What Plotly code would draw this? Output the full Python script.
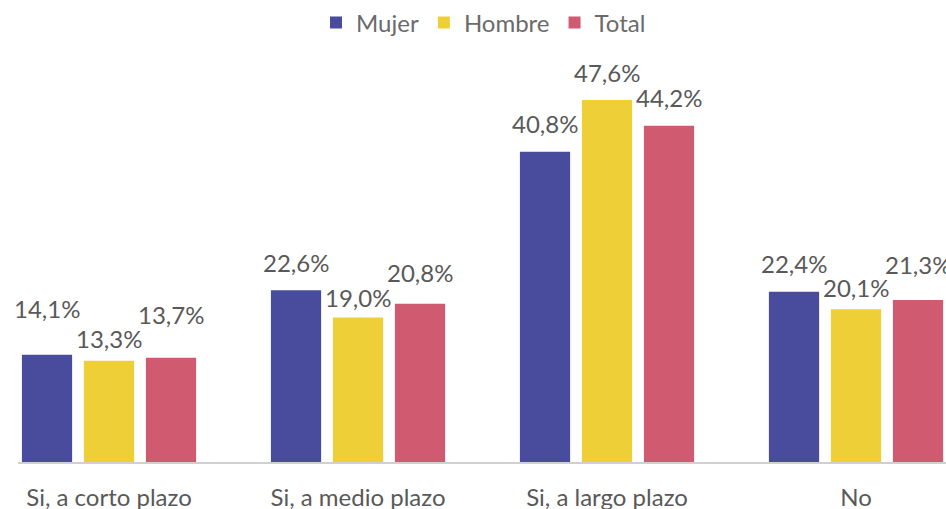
import plotly.graph_objects as go

categories = ["Si, a corto plazo", "Si, a medio plazo", "Si, a largo plazo", "No"]
mujer = [14.1, 22.6, 40.8, 22.4]
hombre = [13.3, 19.0, 47.6, 20.1]
total = [13.7, 20.8, 44.2, 21.3]
series_names = ["Mujer", "Hombre", "Total"]
colors = ["#494C9C", "#EFCF38", "#D05A70"]

# style: extra label lift in px (as in the reference, labels are staggered)
label_lift = [
    [18, 0, 0, 0],
    [-6, -8, 0, -6],
    [15, 3, 0, 8],
]

FONT = "Lato, 'Open Sans', sans-serif"
BAR_PITCH = 62  # px between bar centres in a group

def fmt(v):
    return f"{v:.1f}".replace(".", ",") + "%"

fig = go.Figure()
annotations = []
for i, (name, vals, col) in enumerate(zip(series_names, [mujer, hombre, total], colors)):
    fig.add_trace(go.Bar(
        name=name, x=categories, y=vals,
        marker=dict(color=col, line=dict(width=0)),
        cliponaxis=True, hoverinfo="skip",
    ))
    for j, (c, v) in enumerate(zip(categories, vals)):
        annotations.append(dict(
            x=c, y=v, xref="x", yref="y", text=fmt(v), showarrow=False,
            xanchor="center", yanchor="middle",
            xshift=(i - 1) * BAR_PITCH, yshift=28 + label_lift[i][j],
            font=dict(size=24, color="#595959", family=FONT),
        ))

fig.update_layout(
    width=946, height=509,
    margin=dict(l=18, r=0, t=60, b=47, autoexpand=False),
    paper_bgcolor="white", plot_bgcolor="white",
    barmode="group", bargap=0.253, bargroupgap=0.19,
    font=dict(family=FONT, color="#595959", size=24),
    showlegend=True,
    legend=dict(orientation="h", x=316 / 946, xanchor="left", xref="container",
                y=0.955, yanchor="middle", yref="container",
                font=dict(size=24, color="#6b6b6b", family=FONT),
                itemwidth=30, traceorder="normal"),
    xaxis=dict(range=[-0.3655, 3.3614], showline=True, linecolor="#D0D0D0", linewidth=2,
               ticks="", showgrid=False, tickfont=dict(size=24, color="#595959"),
               ticklabelstandoff=13, fixedrange=True, automargin=False),
    yaxis=dict(range=[0, 52.86], visible=False, showgrid=False, zeroline=False,
               fixedrange=True, automargin=False),
    annotations=annotations,
)

fig.write_html("out.html", config={"displayModeBar": False, "staticPlot": True})

# remove the browser's default page margin so the figure sits at (0, 0)
with open("out.html", "r", encoding="utf-8") as f:
    html = f.read()
html = html.replace("<head>", "<head><style>html,body{margin:0;padding:0;overflow:hidden;}</style>", 1)
with open("out.html", "w", encoding="utf-8") as f:
    f.write(html)
